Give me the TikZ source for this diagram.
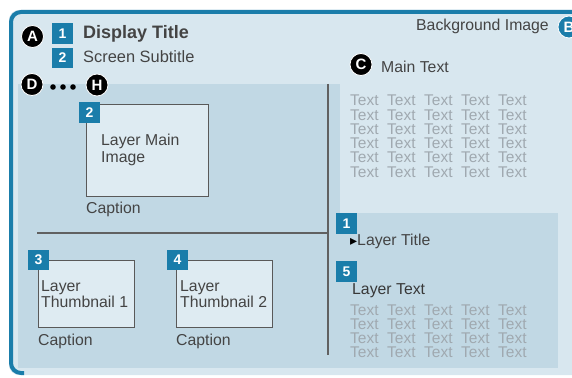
\documentclass[tikz,border=0pt]{standalone}
\usepackage{fontspec}
\setmainfont{Liberation Sans}
\newfontfamily\dejavu{DejaVu Sans}
\usepackage{tikz}
\usetikzlibrary{positioning}
\definecolor{frameblue}{HTML}{1A7DAA}
\definecolor{framefill}{HTML}{D8E7EF}
\definecolor{panelfill}{HTML}{C1D8E4}
\definecolor{boxfill}{HTML}{DEEBF2}
\definecolor{inktext}{HTML}{444444}
\definecolor{dummytext}{HTML}{A0A9B0}
\tikzset{
  badge/.style={fill=frameblue, text=white, font=\bfseries\fontsize{14}{14}\selectfont,
    minimum size=20.5pt, inner sep=0pt, anchor=north west},
  callout/.style={circle, fill=black, draw=white, line width=0.8pt, text=white,
    font=\bfseries\fontsize{15}{15}\selectfont, minimum size=22pt, inner sep=0pt},
  lbl/.style={text=inktext, font=\fontsize{15.8}{16}\selectfont, anchor=base west, inner sep=0pt},
  filler/.style={text=dummytext, font=\fontsize{15.5}{15.5}\selectfont, anchor=base west, inner sep=0pt},
  layerbox/.style={draw=black!65, fill=boxfill, line width=0.8pt, anchor=north west, inner sep=0pt},
  divider/.style={draw=black!62, line width=1.3pt}
}
\begin{document}
\begin{tikzpicture}[x=1pt,y=-1pt]
\useasboundingbox (0,0) rectangle (572,377);
  \begin{scope}
% screen frame
\fill[framefill, rounded corners=10pt] (9,10) rectangle (600,375);
\draw[frameblue, line width=4pt, rounded corners=10pt] (24,373) -- (11,373) -- (11,12) -- (600,12);
\fill[panelfill] (18,84) rectangle (340,368);
\fill[panelfill] (335,213) rectangle (558,368);
\coordinate (vtop) at (328,84);
\coordinate (vbot) at (328,355);
\coordinate (hleft) at (37,233);
\draw[divider] (vtop) -- (vbot);
\draw[divider] (hleft) -- (hleft -| vtop);
  \end{scope}
  \begin{scope}
% header
\node[callout] (cA) at (32.5,36.5) {A};
\node[badge] (n1) at (52,23) {1};
\node[badge] (n2) at (52,47.5) {2};
\node[lbl, font=\bfseries\fontsize{18}{18}\selectfont] (title) at (83,39) {Display Title};
\node[lbl, font=\fontsize{16.4}{16}\selectfont] (subtitle) at (83,63) {Screen Subtitle};
\node[callout] (cD) at (32,84.5) {D};
\node[callout] (cH) at (97,85) {H};
\foreach \x in {53,63,73} \fill (\x,87) circle (2.8pt);
\node[lbl, anchor=base east] (bgimg) at (549,31) {Background Image};
\node[callout, fill=frameblue] (cB) at (569,27) {B};
\node[callout] (cC) at (361,64.5) {C};
\node[lbl] (maintxt) at (381,73) {Main Text};
\foreach \r in {0,...,5}
  \foreach \c in {0,...,4}
    \node[filler] (mt-\r-\c) at (350+37*\c,106+14.2*\r) {Text};
  \end{scope}
  \begin{scope}
% layer images
\node[layerbox, minimum width=122pt, minimum height=92pt] (mainimg) at (86,104) {};
\node[badge] (n2b) at (79,102) {2};
\node[lbl] (mainimgA) at (101,145) {Layer Main};
\node[lbl] (mainimgB) at (101,162) {Image};
\node[lbl] (cap0) at (86,213) {Caption};
\node[layerbox, minimum width=96pt, minimum height=67pt] (thumbA) at (38,260) {};
\node[badge] (n3) at (28,249.5) {3};
\node[lbl] (thumbAa) at (41,291) {Layer};
\node[lbl] (thumbAb) at (41,307) {Thumbnail 1};
\node[lbl] (cap1) at (38,345) {Caption};
\node[layerbox, minimum width=96pt, minimum height=67pt] (thumbB) at (176,260) {};
\node[badge] (n4) at (167,249.5) {4};
\node[lbl] (thumbBa) at (180,291) {Layer};
\node[lbl] (thumbBb) at (180,307) {Thumbnail 2};
\node[lbl] (cap2) at (176,345) {Caption};
  \end{scope}
  \begin{scope}
% layer text
\node[badge] (n1b) at (336,213) {1};
\node[lbl] (ltitle) at (350,245) {{\dejavu\fontsize{14}{14}\selectfont\textcolor{black}{▸}}Layer Title};
\node[badge] (n5) at (336,261) {5};
\node[lbl, text=black!78] (ltext) at (352,294) {Layer Text};
\foreach \r in {0,...,3}
  \foreach \c in {0,...,4}
    \node[filler] (lt-\r-\c) at (350+37*\c,315+14.3*\r) {Text};
  \end{scope}
\end{tikzpicture}
\end{document}
